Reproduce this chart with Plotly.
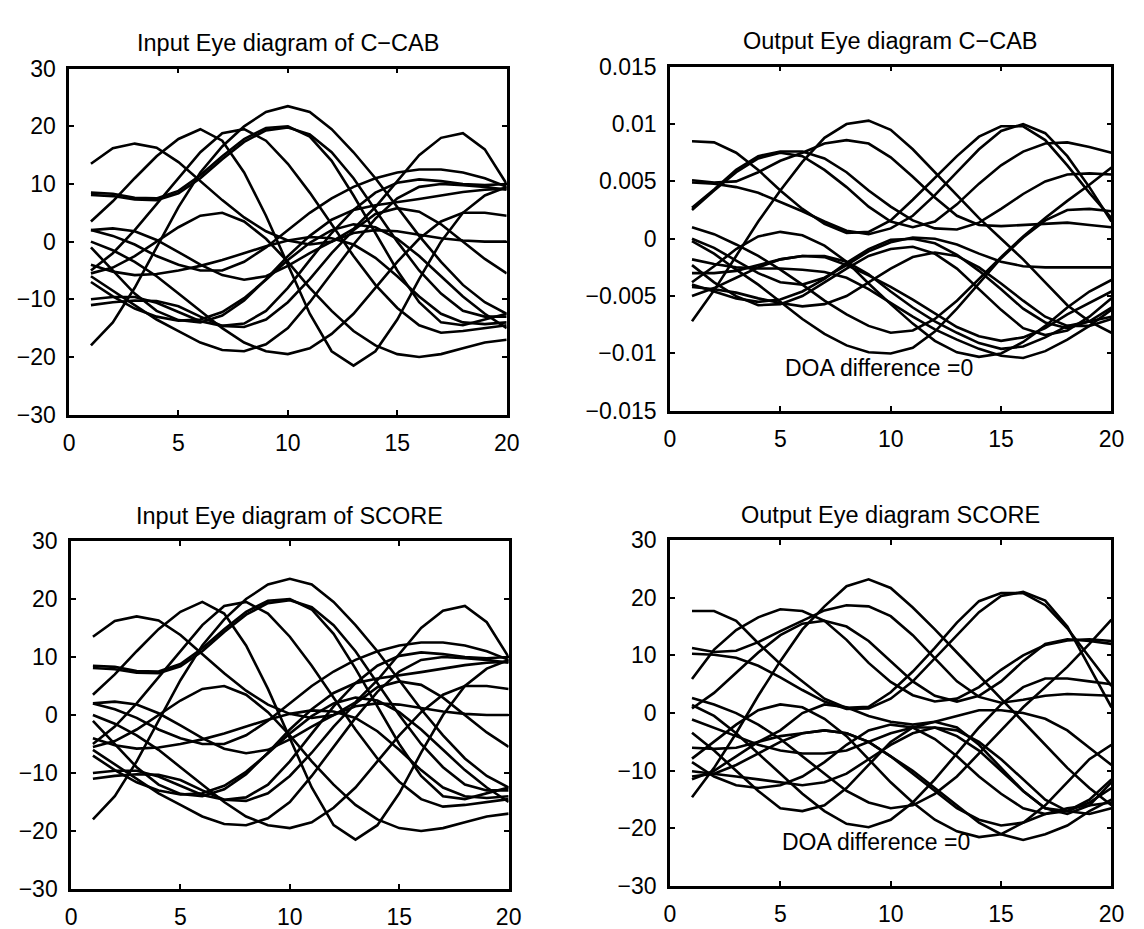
import plotly.graph_objects as go

x_samples = list(range(1, 21))

# ---- Input eye diagram (same input for C-CAB and SCORE panels) ----
in_traces = [
    [13.5, 16.2, 17.0, 16.3, 13.8, 10.5, 7.2, 4.2, 1.8, 0.2, -0.5, 0.0, 2.2, 6.0, 10.5, 15.0, 18.0, 18.8, 16.0, 10.0],
    [8.5, 8.3, 7.6, 7.5, 8.8, 11.5, 14.8, 17.8, 19.7, 20.0, 18.2, 14.0, 8.0, 1.5, -5.0, -10.5, -14.0, -14.5, -13.5, -12.5],
    [8.1, 7.9, 7.3, 7.2, 8.4, 11.0, 14.3, 17.3, 19.3, 19.8, 18.6, 15.5, 11.0, 5.5, 0.0, -5.0, -9.0, -12.0, -13.0, -13.0],
    [3.5, 7.0, 11.0, 14.8, 17.8, 19.5, 17.5, 12.0, 4.5, -4.0, -12.5, -19.0, -21.5, -19.0, -13.5, -6.5, 0.0, 5.0, 8.0, 9.5],
    [2.0, 2.3, 1.8, 0.3, -1.8, -4.0, -5.8, -6.6, -6.0, -4.2, -2.0, 0.0, 1.5, 2.0, 1.8, 1.2, 0.6, 0.2, 0.0, 0.0],
    [-1.0, -5.0, -9.0, -12.0, -13.6, -14.0, -12.8, -10.2, -6.5, -2.5, 1.0, 3.8, 5.5, 6.3, 6.8, 7.4, 8.0, 8.6, 9.0, 9.2],
    [-4.0, -5.2, -5.8, -5.6, -5.0, -4.2, -3.2, -2.0, -0.8, 0.2, 0.8, 0.6, -0.5, -2.8, -6.0, -9.5, -12.5, -14.0, -14.3, -14.0],
    [-5.0, -2.0, 2.0, 6.5, 11.0, 15.5, 18.8, 19.5, 17.5, 13.5, 8.5, 3.0, -2.5, -7.5, -11.5, -14.5, -15.8, -15.5, -15.0, -14.5],
    [-6.0, -8.5, -11.0, -13.5, -15.5, -17.5, -18.8, -19.0, -17.8, -15.0, -10.5, -5.5, -0.5, 4.0, 7.5, 9.5, 10.0, 9.8, 9.5, 9.0],
    [-7.0, -9.5, -11.6, -13.0, -13.7, -13.5, -12.2, -9.8, -6.6, -3.2, -0.2, 2.0, 3.0, 2.5, 0.5, -2.5, -6.0, -9.5, -12.5, -15.0],
    [-10.0, -9.6, -9.6, -10.6, -12.2, -13.8, -14.6, -14.2, -12.0, -8.0, -3.2, 1.5, 5.5, 8.5, 10.2, 10.8, 10.5, 10.0, 9.8, 10.0],
    [-11.0, -10.5, -10.2, -10.3, -11.2, -13.0, -14.6, -14.8, -13.5, -10.5, -6.5, -2.0, 2.0, 4.8, 5.8, 5.2, 3.0, 0.0, -3.0, -5.5],
    [-18.0, -14.0, -8.0, -1.0, 6.0, 12.0, 16.5, 20.0, 22.5, 23.5, 22.5, 19.5, 15.5, 11.0, 6.0, 1.0, -3.5, -7.5, -10.5, -12.5],
    [0.0, -1.5, -3.5, -6.0, -9.0, -12.0, -15.0, -17.5, -19.0, -19.5, -18.5, -16.0, -12.5, -8.0, -3.5, 0.5, 3.5, 5.0, 5.0, 4.5],
    [2.0, 1.0, -0.5, -2.5, -4.0, -5.0, -5.0, -3.5, -1.0, 2.0, 5.0, 7.5, 9.5, 11.0, 12.0, 12.5, 12.5, 12.0, 11.0, 9.5],
    [-5.5, -4.5, -2.5, 0.0, 2.5, 4.5, 5.0, 3.5, 0.5, -3.5, -8.0, -12.0, -15.5, -18.0, -19.5, -20.0, -19.5, -18.5, -17.5, -17.0],
]

# ---- Output eye diagram of C-CAB (values in units of 0.001) ----
ccab_traces = [
    [8.5, 8.4, 7.5, 6.0, 4.2, 2.6, 1.3, 0.5, 0.6, 1.6, 3.4, 5.3, 7.2, 8.9, 9.8, 9.8, 8.6, 6.4, 4.0, 1.8],
    [5.1, 4.9, 5.0, 5.8, 6.8, 7.5, 8.3, 8.6, 8.3, 7.1, 5.4, 3.6, 2.0, 1.2, 1.1, 1.2, 1.3, 1.4, 1.2, 1.0],
    [-7.2, -4.5, -1.5, 1.5, 4.2, 6.7, 8.8, 10.0, 10.3, 9.5, 7.8, 5.8, 3.8, 1.8, 0.0, -1.8, -3.8, -5.8, -7.2, -8.2],
    [4.9, 4.8, 4.5, 4.0, 3.2, 2.4, 1.5, 0.7, 0.4, 0.9, 2.0, 3.8, 5.8, 7.8, 9.4, 10.0, 9.2, 7.2, 4.5, 1.5],
    [2.7, 4.3, 6.0, 7.2, 7.6, 7.6, 7.0, 5.8, 4.2, 2.8, 1.6, 0.9, 0.8, 1.4, 2.6, 3.9, 5.0, 5.6, 5.7, 5.6],
    [1.0, 0.4, -0.5, -1.5, -2.7, -4.0, -5.4, -6.6, -7.6, -8.2, -8.0, -7.0, -5.4, -3.5, -1.6, 0.2, 1.8, 3.3, 4.7, 6.2],
    [-0.2, -1.3, -2.7, -4.0, -5.5, -7.0, -8.3, -9.3, -9.9, -10.0, -9.5, -8.1, -6.1, -3.9, -1.7, 0.1, 1.6, 2.5, 2.6, 2.4],
    [-1.8, -2.2, -2.5, -2.6, -2.6, -2.7, -2.9, -3.4, -4.4, -5.6, -6.8, -7.9, -8.8, -9.6, -10.2, -10.4, -9.8, -8.8, -7.6, -6.2],
    [-2.3, -3.8, -5.0, -5.8, -5.7, -5.0, -3.8, -2.6, -1.5, -0.9, -0.7, -1.3, -2.6, -4.4, -6.2, -7.8, -8.4, -8.0, -6.8, -5.2],
    [-3.0, -3.0, -2.8, -2.3, -1.8, -1.5, -1.5, -2.0, -3.1, -4.6, -6.0, -7.2, -8.2, -9.1, -9.6, -9.4, -8.6, -7.6, -7.2, -6.8],
    [-3.8, -2.4, -0.9, 0.2, 0.6, 0.3, -0.6, -2.0, -3.9, -5.7, -7.4, -8.9, -9.9, -10.3, -10.0, -9.0, -7.6, -6.0, -4.6, -3.6],
    [-4.2, -4.4, -4.7, -5.2, -5.6, -5.9, -5.7, -5.0, -3.8, -2.6, -1.6, -1.2, -1.5, -2.5, -3.9, -5.4, -6.8, -7.6, -7.6, -7.0],
    [-5.0, -4.3, -3.4, -2.5, -1.8, -1.5, -1.6, -2.3, -3.2, -4.2, -5.3, -6.5, -7.7, -8.5, -8.9, -8.6, -7.8, -6.6, -5.6, -4.6],
    [-4.0, -4.6, -5.2, -5.5, -5.3, -4.6, -3.5, -2.1, -0.9, -0.1, 0.0, -0.4, -1.4, -2.8, -4.4, -6.1, -7.3, -7.8, -7.2, -6.0],
    [0.0, -0.8, -1.9, -3.0, -3.8, -4.0, -3.4, -2.3, -1.1, -0.3, 0.1, 0.0, -0.5, -1.3, -2.0, -2.4, -2.5, -2.5, -2.5, -2.5],
    [2.5, 4.2, 5.8, 7.0, 7.5, 7.2, 6.0, 4.5, 2.8, 1.5, 1.0, 1.5, 3.0, 4.8, 6.4, 7.6, 8.3, 8.4, 8.0, 7.5],
]
ccab_unit = 0.001

# ---- Output eye diagram of SCORE ----
score_traces = [
    [17.7, 17.7, 16.0, 12.1, 8.5, 5.5, 2.5, 0.9, 1.1, 3.6, 7.2, 11.3, 15.7, 19.4, 20.8, 20.8, 18.7, 14.7, 9.6, 4.7],
    [11.3, 10.6, 10.8, 12.3, 14.2, 16.0, 17.8, 18.7, 18.5, 16.8, 13.5, 9.5, 5.5, 2.8, 1.8, 2.3, 3.0, 3.3, 3.2, 3.0],
    [-14.6, -9.5, -3.5, 3.0, 9.0, 14.5, 18.5, 22.0, 23.2, 21.7, 18.3, 14.5, 10.5, 6.5, 2.5, -1.5, -5.5, -9.5, -13.0, -16.0],
    [10.3, 10.1, 9.6, 8.2, 6.2, 4.0, 2.0, 0.7, 0.8, 2.5, 5.5, 9.5, 13.5, 17.5, 20.3, 21.0, 19.5, 15.0, 8.0, 1.0],
    [5.9, 11.0, 14.4, 16.6, 18.0, 17.7, 16.0, 12.7, 8.7, 5.4, 3.1, 2.0, 2.5, 4.5, 7.5, 10.0, 11.8, 12.6, 12.8, 12.5],
    [2.6, 1.5, 0.0, -2.0, -4.5, -7.5, -10.5, -13.5, -15.5, -16.5, -16.0, -14.0, -11.0, -7.0, -3.0, 1.0, 4.5, 8.0, 12.0, 16.2],
    [1.4, -0.5, -3.5, -7.0, -10.5, -14.0, -17.0, -19.2, -19.8, -18.5, -15.5, -11.5, -7.0, -2.5, 1.5, 4.5, 6.0, 6.0, 5.5, 5.0],
    [-1.1, -2.5, -4.0, -5.5, -6.5, -7.0, -7.0, -6.5, -5.0, -3.5, -2.5, -2.5, -4.0, -6.5, -10.0, -13.5, -16.5, -17.5, -16.0, -12.0],
    [-3.4, -6.5, -10.0, -13.5, -16.5, -17.0, -16.0, -13.0, -9.0, -5.0, -2.5, -1.5, -2.5, -5.5, -9.5, -13.5, -16.5, -17.0, -15.5, -13.0],
    [-6.0, -6.2, -6.0, -5.0, -4.0, -3.5, -3.0, -3.5, -5.0, -7.5, -10.0, -13.0, -16.0, -19.0, -21.0, -22.0, -21.0, -19.5, -17.0, -15.0],
    [-7.9, -5.0, -2.0, 0.5, 1.5, 1.0, -1.0, -4.0, -8.0, -12.0, -15.5, -18.5, -20.5, -21.5, -21.0, -19.0, -16.0, -12.0, -8.0, -5.5],
    [-10.1, -10.5, -11.0, -11.5, -12.0, -12.5, -12.0, -10.5, -8.0, -5.5, -3.5, -2.5, -3.0, -5.0, -8.0, -11.5, -15.0, -17.0, -17.5, -16.5],
    [-11.0, -10.5, -9.0, -7.0, -5.0, -3.5, -3.0, -3.5, -5.0, -7.5, -10.5, -13.5, -16.5, -18.5, -19.5, -19.0, -17.5, -16.5, -16.0, -15.5],
    [-11.5, -10.0, -7.5, -5.0, -3.0, 0.0, 1.5, 1.0, -0.5, -1.5, -2.0, -1.5, -0.5, 0.5, 0.5, 0.0, -1.0, -3.0, -6.0, -9.0],
    [0.8, 3.5, 7.0, 10.5, 13.5, 15.5, 16.0, 15.0, 12.5, 9.0, 5.5, 3.0, 2.0, 3.0, 5.5, 9.0, 12.0, 12.8, 12.5, 12.0],
    [-8.5, -11.0, -12.5, -13.0, -12.5, -11.0, -8.5, -5.5, -3.0, -2.0, -2.5, -4.5, -7.5, -11.0, -14.0, -16.5, -17.5, -17.0, -15.0, -11.5],
]

titles = ["Input Eye diagram of C\u2212CAB", "Output Eye diagram C\u2212CAB",
          "Input Eye diagram of SCORE", "Output Eye diagram SCORE"]
doa_label = "DOA difference =0"

x_ticks = [0, 5, 10, 15, 20]
y_ticks_30 = [-30, -20, -10, 0, 10, 20, 30]
y_ticktext_30 = ["\u221230", "\u221220", "\u221210", "0", "10", "20", "30"]
y_ticks_ccab = [-0.015, -0.01, -0.005, 0, 0.005, 0.01, 0.015]
y_ticktext_ccab = ["\u22120.015", "\u22120.01", "\u22120.005", "0", "0.005", "0.01", "0.015"]

W, H = 1144, 929
# panel boxes in pixels: (left, right, top, bottom)
boxes = [(56, 501, 49, 405), (667, 1116, 47, 401), (58, 503, 535, 893), (667, 1116, 534, 890)]

FONT = "Liberation Sans, Arial, Helvetica, sans-serif"
fig = go.Figure()

panel_data = [
    (in_traces, 1.0),
    (ccab_traces, ccab_unit),
    (in_traces, 1.0),
    (score_traces, 1.0),
]

for i, (traces, unit) in enumerate(panel_data):
    sfx = "" if i == 0 else str(i + 1)
    for tr in traces:
        fig.add_trace(go.Scatter(
            x=x_samples, y=[v * unit for v in tr], mode="lines",
            line=dict(color="black", width=2.6),
            xaxis="x" + sfx, yaxis="y" + sfx, hoverinfo="skip", showlegend=False))

layout = dict(width=W, height=H, autosize=False, margin=dict(l=0, r=0, t=0, b=0),
              paper_bgcolor="white", plot_bgcolor="white", showlegend=False,
              font=dict(family=FONT, size=23, color="black"))

axis_common = dict(showline=True, linewidth=2.5, linecolor="black", mirror="ticks",
                   ticks="inside", ticklen=5, tickwidth=2, tickcolor="black",
                   showgrid=False, zeroline=False,
                   tickfont=dict(family=FONT, size=23, color="black"))

annotations = []
for i, (l, r, t, b) in enumerate(boxes):
    sfx = "" if i == 0 else str(i + 1)
    xd = [l / W, r / W]
    yd = [1 - b / H, 1 - t / H]
    xa = dict(axis_common, domain=xd, range=[0, 20], tickvals=x_ticks,
              anchor="y" + sfx, ticklabelstandoff=6)
    if i == 1:
        ya = dict(axis_common, domain=yd, range=[-0.015, 0.015], tickvals=y_ticks_ccab,
                  ticktext=y_ticktext_ccab, anchor="x" + sfx, ticklabelstandoff=6)
    else:
        ya = dict(axis_common, domain=yd, range=[-30, 30], tickvals=y_ticks_30,
                  ticktext=y_ticktext_30, anchor="x" + sfx, ticklabelstandoff=6)
    layout["xaxis" + sfx] = xa
    layout["yaxis" + sfx] = ya
    annotations.append(dict(text=titles[i], xref="paper", yref="paper",
                            x=(l + r) / 2 / W, y=1 - (t - 26) / H,
                            xanchor="center", yanchor="middle", showarrow=False,
                            font=dict(family=FONT, size=23.5, color="black")))

annotations.append(dict(text=doa_label, xref="x2", yref="y2", x=5.1, y=-0.0113,
                        xanchor="left", yanchor="middle", showarrow=False,
                        font=dict(family=FONT, size=23, color="black")))
annotations.append(dict(text=doa_label, xref="x4", yref="y4", x=5.0, y=-22.3,
                        xanchor="left", yanchor="middle", showarrow=False,
                        font=dict(family=FONT, size=23, color="black")))
layout["annotations"] = annotations

fig.update_layout(**layout)
fig.write_html("out.html")
